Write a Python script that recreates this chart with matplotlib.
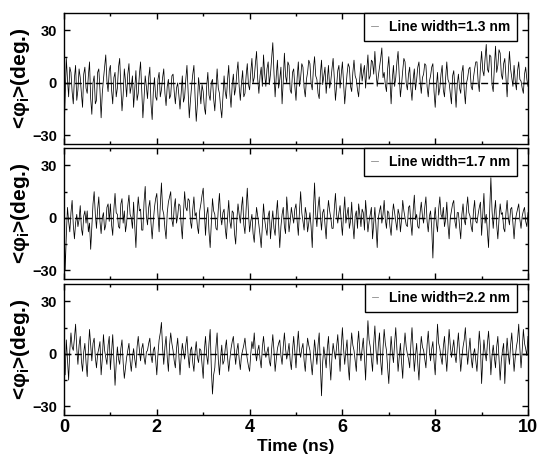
import numpy as np
import matplotlib
matplotlib.use("Agg")
import matplotlib.pyplot as plt
from matplotlib.ticker import MultipleLocator

# mean angle <phi_i> (deg.), one value every 0.025 ns (0..10 ns)
phi_13 = [
    -30, -8, 14, 2, -8, 9, 6, -5, -12, 3, 10, -10, -4, 8, 3, -6, -14, 5, 9, -3,
    -6, 4, 12, -9, -18, 0, 4, -12, -10, 6, 8, -4, -20, -6, 2, 9, 16, 1, -5, 7,
    10, -4, -12, 3, 6, -8, -3, 9, 14, -2, -16, -7, 8, 1, -8, 5, 11, -6, -2, 4,
    -14, -3, 7, -10, -6, 5, 12, -4, -20, -9, 4, -2, -9, 3, 9, -12, -21, -5, 3, -8,
    -10, 2, 6, -8, -4, 3, 8, -6, -13, -2, 2, -9, -7, 4, 5, -5, -12, -3, 0, -7,
    -15, -6, 4, -11, -8, 2, 10, -5, -20, -10, -2, 5, 10, -8, -22, -12, 3, -4, -12, -1,
    -5, -14, -18, -2, 6, -7, -10, 0, 2, -9, -16, -4, 8, -3, -6, -14, -20, -8, 4, -5,
    -9, 2, 10, -6, -14, -1, 5, -7, -3, 6, 12, -2, -10, 0, 7, -8, -6, 4, 11, -1,
    -4, 6, 14, 0, 3, 11, 18, 2, -6, 4, 9, -2, 16, 5, -2, 8, 12, -1, 5, 14,
    23, 6, -8, 4, 13, -3, 2, 9, -12, 1, 17, 4, 0, 12, 10, -4, -6, 6, 8, -2,
    -10, 3, 12, -2, 3, 11, 9, -3, -8, 2, 6, 13, 11, 0, -4, 8, 15, 4, 2, -6,
    -9, 5, 13, -1, 4, 9, -6, 2, 10, -3, 1, 8, 14, 3, -10, -2, 7, 10, -3, 5,
    12, 0, -12, -3, 5, 11, 9, -2, -5, 6, 13, 4, 2, -4, -8, 3, 11, 1, 6, 10,
    -3, 7, 16, 2, 4, 13, 12, 5, 18, 6, -2, 4, 9, 14, 20, 3, 6, -1, -5, 8,
    15, 1, -12, 2, 10, -2, 3, 12, 18, 4, -8, -1, 7, 14, 12, 0, -4, 5, 9, -3,
    -10, 2, 8, -4, 2, 9, 12, 1, -6, 3, 5, 11, 10, -2, -8, 1, 4, 9, 11, -5,
    -14, -2, 6, -7, -3, 5, 10, -4, -8, 3, 12, 2, 0, -6, -12, 4, 7, -3, -14, -1,
    5, -3, -6, 6, 10, -4, -12, 0, 3, 8, 9, -2, -4, 3, 8, 12, 12, 1, -5, 9,
    18, 7, 4, 14, 22, 8, 6, 16, 15, -1, -5, 9, 21, 6, 10, 19, 17, 5, 2, 11,
    14, 3, -8, 6, 18, 8, 3, -2, 10, 1, -4, 7, 12, 2, 1, -3, -6, 5, 9, 2,
    -2,
]
phi_17 = [
    0, -30, -10, 6, -2, -8, 3, 10, -4, -12, -3, 2, -5, -1, 7, -6, -10, 1, 4, -3,
    4, -8, -3, -18, -5, 8, 15, 2, -6, 5, 12, -2, -9, 0, 3, -7, -4, 6, 8, -2,
    8, -4, -10, 5, 14, 3, 2, -5, -6, 8, 11, -3, 4, -8, -3, 7, 13, 2, 0, -6,
    9, -5, -17, 2, 12, 4, 5, -7, -7, 9, 18, 1, -4, 6, 10, -3, -12, -2, 6, 11,
    14, 2, -8, 7, 20, 5, 2, -6, -12, 3, 9, 12, 15, -1, -5, 6, 11, -3, 1, 8,
    7, -4, -12, 3, 15, 6, 4, 11, 10, -2, -6, 5, 12, 1, 3, -5, -9, 4, 8, 13,
    17, 3, -10, 2, 6, -8, -17, -3, 11, 4, 2, -6, -7, 5, 14, 1, -4, 3, 5, -6,
    -12, 0, 10, -2, -6, 4, 3, -9, -15, -1, 8, 2, -3, 6, 12, -4, -9, 5, 17, 3,
    -8, -2, 2, -9, -14, -3, 6, 1, -4, -10, -17, -5, 8, -1, -6, -10, 1, 4, -12, -3,
    4, -6, -10, 2, 10, -3, -17, -5, 2, 6, -5, -9, 12, 3, -8, -2, 6, 1, -3, 5,
    8, -2, -10, 4, 15, 3, -2, -7, 6, 2, -8, -3, 3, -5, -17, 4, 20, 2, -5, 6,
    12, 1, -7, 3, 5, -4, -12, 2, 10, 4, 0, -6, -6, 5, 14, 2, -3, 3, 7, -2,
    -10, 2, 12, -3, 2, 6, -6, -2, 9, -4, -12, 1, 4, -6, 8, 2, -5, 5, 3, -7,
    10, 1, -8, -2, 2, 6, -12, -3, 6, -5, -17, 0, 4, 7, -3, 2, 10, -1, -6, 4,
    3, -5, -10, 1, 8, 3, -2, -7, 5, 2, -8, -1, 10, 4, 0, -4, -5, 6, 7, -3,
    -10, 4, 13, -1, 2, -5, -6, 3, 9, 1, -3, 6, 12, -2, -8, 1, 4, -6, -23, -2,
    6, -3, -8, 5, 12, 2, 0, 6, -5, -1, 9, -4, -12, 0, 4, 8, 10, -2, -6, 3,
    3, -5, -12, 2, 8, -1, -4, 5, 12, 3, 1, -5, -8, 4, 10, -2, -3, 2, 6, 9,
    -10, 2, 14, -3, 2, -8, -17, 5, 23, 4, -6, 3, 10, -4, -12, -1, 8, 2, 3, -6,
    -8, 3, 10, 0, -4, 5, 6, -3, -12, -2, 2, 5, 8, -1, -6, 1, 4, 6, -2, -5,
    3,
]
phi_22 = [
    -5, -12, 8, -3, -15, 2, 12, 4, 2, 9, 17, 3, -6, 5, 10, -4, -10, 1, 6, -5,
    -13, 2, 14, 5, -4, 6, 9, -2, -8, 0, 3, 7, -12, -3, 11, 2, -2, -6, 5, 10,
    -9, 1, 11, -4, -18, -6, 4, -3, -6, 3, 8, -5, -14, -8, -2, 2, 6, -4, -10, -2,
    3, -3, -8, 4, 10, 2, -4, 3, 6, -2, -6, 1, 2, 6, 9, -1, -5, 2, 4, -3,
    -12, 0, 8, 12, 18, 3, -6, 4, 10, -2, -10, 5, 12, 6, 2, -4, -8, 3, 9, -1,
    -12, -2, 6, 1, -3, 5, 10, -1, -8, 2, 4, -5, -10, 1, 7, -2, -5, 3, 2, -6,
    -14, 2, 10, -1, -6, 6, 14, -8, -23, -12, -8, 4, 12, -3, -12, -2, 5, -6, -4, 3,
    8, -2, -10, -3, 3, 7, 10, 1, -6, 2, 6, -3, -9, -1, 2, 5, 9, 2, -3, -7,
    -10, 0, 7, 3, 12, 1, -4, 2, 5, -3, -8, 4, 10, 2, -2, 1, 4, -4, -7, 3,
    11, 2, -10, -3, 3, 6, 8, -1, -6, 4, 12, 3, -3, 1, 6, -4, -9, 2, 10, 1,
    -8, 4, 13, 2, -2, 3, 6, -4, -10, 1, 9, 5, 2, -5, -12, -2, 8, 1, -6, 5,
    12, -6, -24, -5, 4, -2, -8, 3, 10, -4, -15, -2, 6, 1, -3, 4, 11, 0, -10, 4,
    15, 3, -6, 2, 8, -7, -15, 2, 12, 5, 2, -4, -10, 5, 13, 1, -4, 3, 9, -2,
    -15, 4, 19, 8, 4, -3, -10, 6, 16, 2, -6, 5, 12, -4, -12, 3, 14, 6, 2, -8,
    -17, -2, 10, 1, -5, 6, 15, 2, -10, -2, 6, -5, -14, 3, 12, 4, 0, -3, -8, 5,
    15, 2, -10, -1, 6, -6, -15, 0, 10, 4, 2, -3, -8, 5, 13, 2, -4, 3, 7, -4,
    -12, 3, 17, 6, 3, -2, -6, 4, 10, -1, -10, 2, 14, 5, -2, 3, 8, -1, -5, 4,
    12, 1, -10, -2, 4, 8, 15, 3, -6, 2, 9, -2, -8, 0, 3, -4, -10, 2, 13, 4,
    -17, -3, 8, 1, -4, 6, 13, 2, -12, -1, 5, -2, -8, 4, 10, -3, -15, -4, 2, 6,
    -17, -2, 9, 0, -6, 5, 12, 1, -10, -2, 4, 8, 17, 3, -8, 2, 14, 6, 3, -1,
    10,
]
series = [phi_13, phi_17, phi_22]
labels = ["Line width=1.3 nm", "Line width=1.7 nm", "Line width=2.2 nm"]

plt.rcParams["font.family"] = ["Liberation Sans", "DejaVu Sans"]
plt.rcParams["font.weight"] = "bold"
plt.rcParams["mathtext.fontset"] = "custom"
plt.rcParams["mathtext.rm"] = "Liberation Sans:bold"
plt.rcParams["mathtext.it"] = "Liberation Sans:bold"
plt.rcParams["mathtext.bf"] = "Liberation Sans:bold"

fig = plt.figure(figsize=(5.37, 4.55), dpi=100)
W, H = 537, 455
left, right = 64, 528
tops = [13, 148, 284]
bots = [144, 279, 415]

axes = []
for k in range(3):
    ax = fig.add_axes([left / W, 1 - bots[k] / H, (right - left) / W, (bots[k] - tops[k]) / H])
    y = np.array(series[k], dtype=float)
    t = np.linspace(0, 10, len(y))
    ax.plot(t, y, color="black", lw=0.55, label=labels[k])
    ax.axhline(0, color="black", lw=1.0, ls=(0, (5, 2.5)))
    ax.set_xlim(0, 10)
    ax.set_ylim(-35, 40)
    ax.xaxis.set_major_locator(MultipleLocator(2))
    ax.xaxis.set_minor_locator(MultipleLocator(1))
    ax.yaxis.set_major_locator(MultipleLocator(30))
    ax.yaxis.set_minor_locator(MultipleLocator(15))
    ax.tick_params(which="both", direction="in", top=True, right=True, width=1.0)
    ax.tick_params(which="major", length=4.5)
    ax.tick_params(which="minor", length=2.5)
    ax.tick_params(axis="y", labelsize=10.5, pad=5)
    ax.tick_params(axis="x", labelsize=13, pad=3)
    for s in ax.spines.values():
        s.set_linewidth(1.0)
    ax.set_ylabel(r"<$\varphi_i$>(deg.)", fontsize=15, fontweight="bold", labelpad=0)
    leg = ax.legend(loc="upper right", bbox_to_anchor=(0.976, 1.0), borderaxespad=0,
                    handlelength=0.45, handletextpad=0.8, borderpad=0.5,
                    fancybox=False, framealpha=1, edgecolor="black",
                    prop={"size": 10, "weight": "bold"})
    leg.get_frame().set_linewidth(1.0)
    for h in leg.get_lines():
        h.set_color("gray")
    if k < 2:
        ax.tick_params(axis="x", labelbottom=False)
    axes.append(ax)

axes[2].set_xlabel("Time (ns)", fontsize=12.5, fontweight="bold", labelpad=2)
fig.align_ylabels(axes)

fig.savefig("out.png", dpi=100)
